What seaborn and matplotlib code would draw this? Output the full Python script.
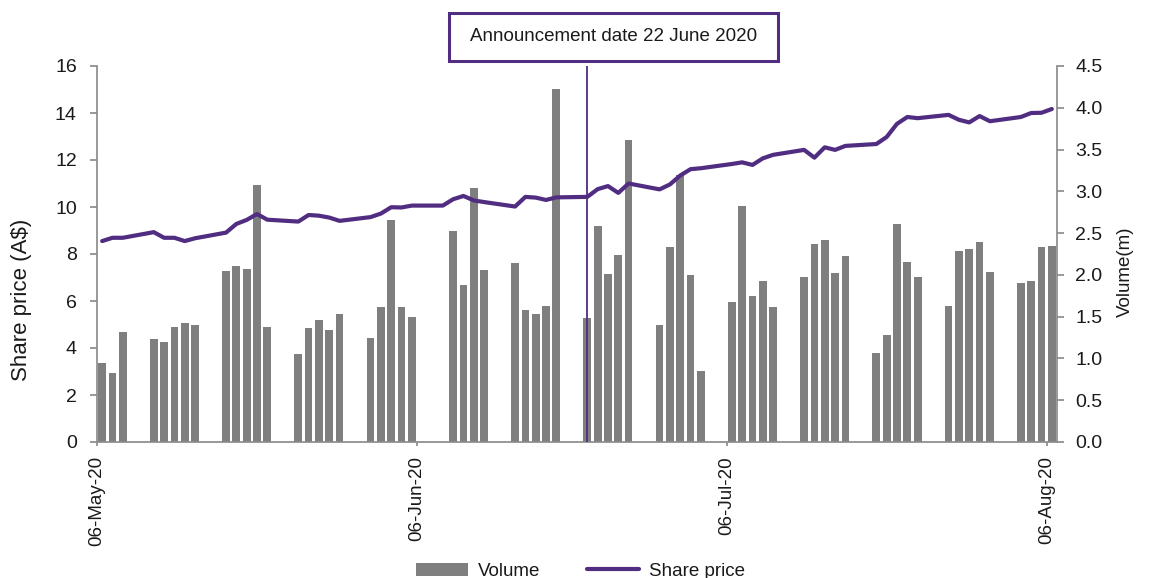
"""
Share price vs traded volume around the 22 June 2020 announcement
- bars: daily volume (right axis, millions)
- line: daily closing share price (left axis, A$)
"""
import matplotlib
matplotlib.use("Agg")
import pandas as pd
import matplotlib.pyplot as plt
import matplotlib.dates as mdates
from matplotlib import font_manager as fm
from matplotlib.patches import Patch, Rectangle
from matplotlib.lines import Line2D
import seaborn as sns

PURPLE = "#512D82"
GREY   = "#7F7F7F"
SPINE  = "#8C8C8C"
TEXT   = "#1A1A1A"

# trading days (8 June is the Queen's Birthday holiday: price carried, no volume)
trade_dates = pd.bdate_range("2020-05-06", "2020-08-06")

volume_m = [
    0.94, 0.82, 1.32,
    1.23, 1.20, 1.38, 1.43, 1.40,
    2.05, 2.11, 2.07, 3.08, 1.38,
    1.05, 1.36, 1.46, 1.34, 1.53,
    1.24, 1.61, 2.66, 1.61, 1.50,
    None, 2.53, 1.88, 3.04, 2.06,
    2.14, 1.58, 1.53, 1.63, 4.23,
    1.48, 2.58, 2.01, 2.24, 3.61,
    1.40, 2.33, 3.20, 2.00, 0.85,
    1.68, 2.82, 1.75, 1.93, 1.62,
    1.97, 2.37, 2.42, 2.02, 2.23,
    1.06, 1.28, 2.61, 2.15, 1.97,
    1.63, 2.28, 2.31, 2.39, 2.04,
    1.90, 1.93, 2.33, 2.34,
]

share_price = [
    8.55, 8.69, 8.69,
    8.93, 8.69, 8.69, 8.55, 8.67,
    8.91, 9.28, 9.45, 9.70, 9.46,
    9.38, 9.66, 9.63, 9.55, 9.41,
    9.57, 9.72, 9.99, 9.98, 10.06,
    10.06, 10.33, 10.47, 10.28, 10.21,
    10.02, 10.43, 10.40, 10.30, 10.41,
    10.43, 10.76, 10.89, 10.60, 11.00,
    10.75, 10.96, 11.34, 11.61, 11.65,
    11.83, 11.90, 11.79, 12.07, 12.22,
    12.43, 12.10, 12.54, 12.43, 12.60,
    12.68, 12.98, 13.54, 13.83, 13.78,
    13.92, 13.71, 13.60, 13.87, 13.65,
    13.83, 14.00, 14.01, 14.17,
]

price_ticks  = list(range(0, 17, 2))
volume_ticks = [0.0, 0.5, 1.0, 1.5, 2.0, 2.5, 3.0, 3.5, 4.0, 4.5]
announce_day = pd.Timestamp("2020-06-22")
announce_txt = "Announcement date 22 June 2020"

df = pd.DataFrame({"date": trade_dates, "volume": volume_m, "price": share_price})
df["volume"] = pd.to_numeric(df["volume"])
# Excel style date axis: each day's point sits in the middle of its slot
df["x"] = mdates.date2num(df["date"]) + 0.5

sns.set_theme(style="ticks")
installed = {f.name for f in fm.fontManager.ttflist}
plt.rcParams["font.family"] = ["Liberation Sans", "DejaVu Sans"]
if "Liberation Sans Narrow" in installed:
    NARROW, NARROW_SIZE = ["Liberation Sans Narrow", "Liberation Sans"], 16.5
else:
    NARROW, NARROW_SIZE = ["Liberation Sans", "DejaVu Sans"], 13.5

fig = plt.figure(figsize=(11.52, 5.78), dpi=100)
fig.patch.set_facecolor("white")
ax_v = fig.add_axes([97 / 1152, 1 - 442 / 578, 960 / 1152, 376 / 578])
ax_p = ax_v.twinx()

sns.barplot(data=df.dropna(subset=["volume"]), x="x", y="volume",
            native_scale=True, width=0.75, color=GREY, saturation=1,
            errorbar=None, edgecolor="none", linewidth=0, ax=ax_v)
sns.lineplot(data=df, x="x", y="price", color=PURPLE, linewidth=3,
             ax=ax_p, zorder=3)
ax_p.axvline(mdates.date2num(announce_day) + 0.5, color=PURPLE, lw=1.3, zorder=4)

# price on the left, volume on the right
ax_p.yaxis.tick_left()
ax_p.yaxis.set_label_position("left")
ax_v.yaxis.tick_right()
ax_v.yaxis.set_label_position("right")

ax_v.set_xlim(mdates.date2num(pd.Timestamp("2020-05-06")),
              mdates.date2num(pd.Timestamp("2020-08-07")))
ax_p.set_ylim(0, 16)
ax_p.set_yticks(price_ticks)
ax_v.set_ylim(0, 4.5)
ax_v.set_yticks(volume_ticks)
ax_v.yaxis.set_major_formatter(matplotlib.ticker.FormatStrFormatter("%.1f"))

ax_v.xaxis.set_major_locator(mdates.DayLocator(bymonthday=6))
ax_v.xaxis.set_major_formatter(mdates.DateFormatter("%d-%b-%y"))
ax_v.tick_params(axis="x", rotation=90, labelsize=13.5, length=3, pad=7,
                 color=SPINE, labelcolor=TEXT, bottom=True)
ax_v.tick_params(axis="y", labelsize=14, length=5, pad=8, color=SPINE,
                 labelcolor=TEXT, right=True, left=False, labelleft=False)
ax_p.tick_params(axis="y", labelsize=14, length=5, pad=9.5, color=SPINE,
                 labelcolor=TEXT, left=True, right=False, labelright=False)

for name, sp in ax_v.spines.items():
    sp.set_visible(name in ("bottom", "right"))
    sp.set_color(SPINE)
for name, sp in ax_p.spines.items():
    sp.set_visible(name == "left")
    sp.set_color(SPINE)

ax_v.set_xlabel("")
ax_p.set_xlabel("")
ax_p.set_ylabel("Share price (A$)", fontsize=16, color=TEXT)
ax_p.yaxis.set_label_coords(-0.0675, 0.378)
ax_v.set_ylabel("Volume(m)", fontsize=13.5, color=TEXT)
ax_v.yaxis.set_label_coords(1.0625, 0.452)

# announcement call-out box
fig.add_artist(Rectangle((449 / 1152, 1 - 60.7 / 578), 329 / 1152, 48 / 578,
                         transform=fig.transFigure, fill=False,
                         edgecolor=PURPLE, linewidth=2.2))
fig.text(613.5 / 1152, 1 - 36.5 / 578, announce_txt, ha="center", va="center",
         fontsize=NARROW_SIZE, family=NARROW, color=TEXT)

handles = [Patch(facecolor=GREY, edgecolor="none", label="Volume"),
           Line2D([], [], color=PURPLE, lw=3, label="Share price")]
em = NARROW_SIZE * 100 / 72
fig.legend(handles=handles, loc="center", bbox_to_anchor=(0.504, 0.012),
           ncol=2, frameon=False, prop={"family": NARROW, "size": NARROW_SIZE},
           handlelength=52 / em, handletextpad=10 / em, columnspacing=47 / em,
           labelcolor=TEXT)

fig.savefig("out.png", dpi=100, facecolor="white")
plt.close(fig)
